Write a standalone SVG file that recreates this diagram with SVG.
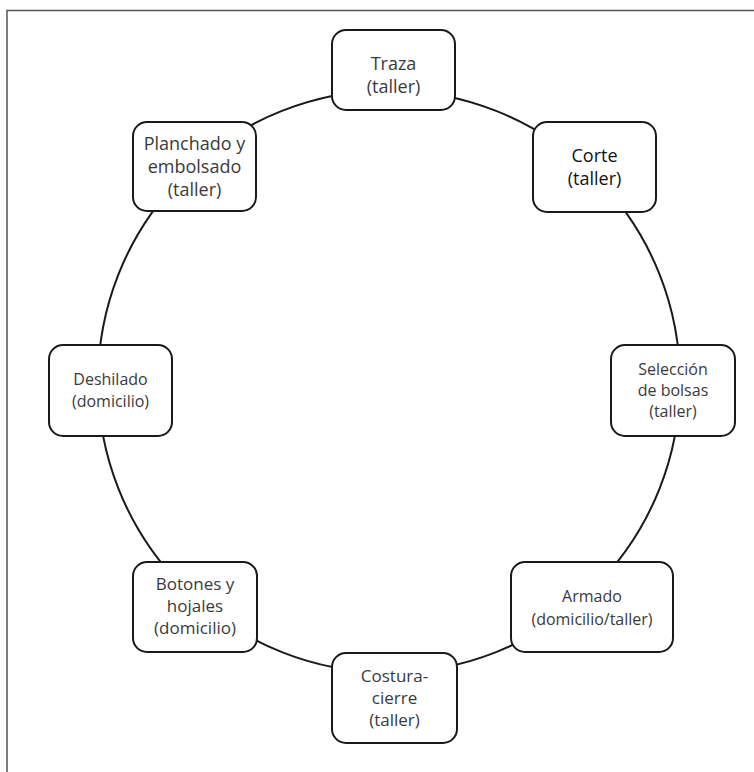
<svg xmlns="http://www.w3.org/2000/svg" width="754" height="772" viewBox="0 0 754 772">
<style>
.box{fill:#fff;stroke:#1a1a1a;stroke-width:2}
.t{font-family:"Open Sans","Noto Sans",sans-serif;fill:#3a3a3a;text-anchor:middle;font-size:16px}
.l{font-size:18px}
.m{font-size:17px}
.dk{fill:#111}
</style>
<rect width="754" height="772" fill="#fff"/>
<path d="M7,772 V10.5 H754" fill="none" stroke="#555" stroke-width="1.5"/>
<g id="connectors">
<circle cx="389" cy="381.5" r="291" fill="none" stroke="#1a1a1a" stroke-width="2"/>
</g>
<g id="traza"><rect class="box" x="332" y="30" width="123" height="80" rx="14"/>
<text class="t l" x="393.5" y="70">Traza</text><text class="t l" x="393.5" y="93">(taller)</text></g>
<g id="corte"><rect class="box" x="533" y="122" width="123" height="90" rx="14"/>
<text class="t l dk" x="594.5" y="162">Corte</text><text class="t l dk" x="594.5" y="185">(taller)</text></g>
<g id="planchado"><rect class="box" x="133" y="122" width="123" height="89" rx="14"/>
<text class="t l" x="194.5" y="150">Planchado y</text><text class="t l" x="194.5" y="173">embolsado</text><text class="t l" x="194.5" y="196">(taller)</text></g>
<g id="seleccion"><rect class="box" x="611" y="345" width="124" height="91" rx="14"/>
<text class="t" x="673" y="375">Selección</text><text class="t" x="673" y="396">de bolsas</text><text class="t" x="673" y="417">(taller)</text></g>
<g id="deshilado"><rect class="box" x="49" y="345" width="123" height="91" rx="14"/>
<text class="t" x="110.5" y="385">Deshilado</text><text class="t" x="110.5" y="407">(domicilio)</text></g>
<g id="armado"><rect class="box" x="511" y="562" width="162" height="90" rx="14"/>
<text class="t" x="592" y="602">Armado</text><text class="t" x="592" y="625">(domicilio/taller)</text></g>
<g id="botones"><rect class="box" x="133" y="562" width="124" height="90" rx="14"/>
<text class="t m" x="195" y="590">Botones y</text><text class="t m" x="195" y="612">hojales</text><text class="t m" x="195" y="634">(domicilio)</text></g>
<g id="costura"><rect class="box" x="332" y="653" width="125" height="90" rx="14"/>
<text class="t m" x="394.5" y="682">Costura-</text><text class="t m" x="394.5" y="704">cierre</text><text class="t m" x="394.5" y="726">(taller)</text></g>
</svg>
